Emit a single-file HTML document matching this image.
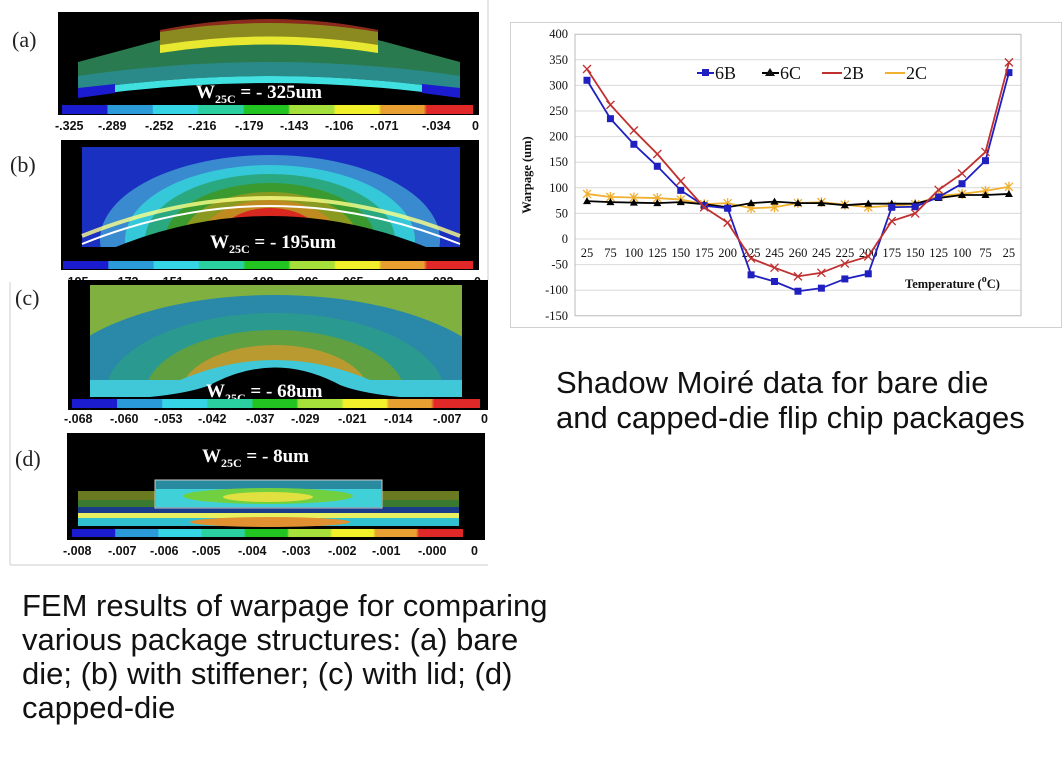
<!DOCTYPE html>
<html><head><meta charset="utf-8"><style>
html,body{margin:0;padding:0;background:#fff;}
svg{display:block}
.cap{font-family:"Liberation Sans",sans-serif;font-size:31px;fill:#111}
.lab{font-family:"Liberation Serif",serif;font-size:22px;fill:#222}
.cb{font-family:"Liberation Sans",sans-serif;font-size:12.5px;font-weight:bold;fill:#111}
.w{font-family:"Liberation Serif",serif;font-size:19px;font-weight:bold;fill:#fff}
.ax{font-family:"Liberation Serif",serif;font-size:12.5px;fill:#111}
</style></head><body>
<svg id="s" width="1064" height="767" viewBox="0 0 1064 767" xmlns="http://www.w3.org/2000/svg">
<defs>
<linearGradient id="cbar" x1="0" x2="1" y1="0" y2="0">
<stop offset="0" stop-color="#1b1bd0"/><stop offset=".11" stop-color="#1b1bd0"/>
<stop offset=".111" stop-color="#2a9ad8"/><stop offset=".22" stop-color="#2a9ad8"/>
<stop offset=".222" stop-color="#35d5e5"/><stop offset=".33" stop-color="#35d5e5"/>
<stop offset=".333" stop-color="#2ad0a0"/><stop offset=".44" stop-color="#2ad0a0"/>
<stop offset=".444" stop-color="#22c422"/><stop offset=".55" stop-color="#22c422"/>
<stop offset=".555" stop-color="#a6e03a"/><stop offset=".66" stop-color="#a6e03a"/>
<stop offset=".666" stop-color="#f2f02a"/><stop offset=".77" stop-color="#f2f02a"/>
<stop offset=".777" stop-color="#e8a030"/><stop offset=".88" stop-color="#e8a030"/>
<stop offset=".888" stop-color="#e02828"/><stop offset="1" stop-color="#e02828"/>
</linearGradient>
<clipPath id="cpb"><rect x="82" y="147" width="378" height="100"/></clipPath>
<clipPath id="cpc"><rect x="90" y="285" width="372" height="112"/></clipPath>
</defs>

<line x1="488" y1="0" x2="488" y2="280" stroke="#ccc"/>
<line x1="10" y1="282" x2="10" y2="565" stroke="#ccc"/>
<line x1="10" y1="565" x2="488" y2="565" stroke="#ccc"/>

<!-- (a) -->
<text class="lab" x="12" y="47">(a)</text>
<rect x="58" y="12" width="421" height="103" fill="#000"/>
<path d="M160,30 Q270,8 378,30 L378,52 Q270,32 160,52Z" fill="#8a2a1a"/>
<path d="M78,62 L160,40 Q270,22 378,40 L460,62 L460,88 Q270,58 78,88Z" fill="#2a7a50"/>
<path d="M160,32 Q270,14 378,32 L378,50 Q270,34 160,50Z" fill="#8a8a20"/>
<path d="M160,45 Q270,28 378,45 L378,53 Q270,36 160,53Z" fill="#e8e830"/>
<path d="M78,76 Q270,48 460,76 L460,90 Q270,62 78,90Z" fill="#2a8a8a"/>
<path d="M78,90 Q270,62 460,90 L460,97 Q270,69 78,97Z" fill="#40e0e0"/>
<path d="M78,88 L115,84 L115,93 L78,98Z" fill="#1b1bd0"/>
<path d="M460,88 L422,84 L422,93 L460,98Z" fill="#1b1bd0"/>
<text class="w" x="196" y="98">W<tspan font-size="12" dy="5">25C</tspan><tspan dy="-5"> = - 325um</tspan></text>
<rect x="62" y="105" width="411" height="9" fill="url(#cbar)"/>
<text class="cb" y="130"><tspan x="55">-.325</tspan><tspan x="98">-.289</tspan><tspan x="145">-.252</tspan><tspan x="188">-.216</tspan><tspan x="235">-.179</tspan><tspan x="280">-.143</tspan><tspan x="325">-.106</tspan><tspan x="370">-.071</tspan><tspan x="422">-.034</tspan><tspan x="472">0</tspan></text>

<!-- (b) -->
<text class="lab" x="10" y="172">(b)</text>
<rect x="61" y="140" width="418" height="130" fill="#000"/>
<g clip-path="url(#cpb)">
<rect x="82" y="147" width="378" height="100" fill="#1a30c0"/>
<ellipse cx="270" cy="240" rx="170" ry="85" fill="#3a8ad0"/>
<ellipse cx="270" cy="240" rx="145" ry="75" fill="#35c8d8"/>
<ellipse cx="270" cy="240" rx="125" ry="66" fill="#2aa880"/>
<ellipse cx="270" cy="240" rx="105" ry="57" fill="#3a9a30"/>
<ellipse cx="270" cy="240" rx="88" ry="48" fill="#8a9a20"/>
<ellipse cx="270" cy="240" rx="70" ry="40" fill="#c08a20"/>
<ellipse cx="270" cy="240" rx="52" ry="32" fill="#d82820"/>
</g>
<path d="M82,236 Q270,160 460,236" fill="none" stroke="#ff8" stroke-width="4" opacity=".8"/>
<path d="M82,244 Q270,168 460,244" fill="none" stroke="#fff" stroke-width="2"/>
<path d="M82,262 Q270,170 460,262 L460,270 L82,270Z" fill="#000"/>
<text class="w" x="210" y="248">W<tspan font-size="12" dy="5">25C</tspan><tspan dy="-5"> = - 195um</tspan></text>
<rect x="63" y="261" width="410" height="8" fill="url(#cbar)"/>
<text class="cb" y="286"><tspan x="60">-.195</tspan><tspan x="110">-.173</tspan><tspan x="155">-.151</tspan><tspan x="200">-.130</tspan><tspan x="245">-.108</tspan><tspan x="290">-.086</tspan><tspan x="335">-.065</tspan><tspan x="380">-.043</tspan><tspan x="425">-.022</tspan><tspan x="474">0</tspan></text>
<rect x="11" y="280" width="477" height="12" fill="#fff"/>

<!-- (c) -->
<text class="lab" x="15" y="305">(c)</text>
<rect x="68" y="280" width="420" height="130" fill="#000"/>
<g clip-path="url(#cpc)">
<rect x="90" y="285" width="372" height="112" fill="#80b040"/>
<ellipse cx="275" cy="395" rx="230" ry="100" fill="#2a88a8"/>
<ellipse cx="275" cy="395" rx="170" ry="82" fill="#2a9a90"/>
<ellipse cx="275" cy="395" rx="130" ry="65" fill="#60a040"/>
<ellipse cx="275" cy="395" rx="95" ry="50" fill="#b89a30"/>
<ellipse cx="275" cy="395" rx="60" ry="35" fill="#e07020"/>
<ellipse cx="275" cy="395" rx="45" ry="25" fill="#e02020"/>
<path d="M90,380 L180,380 Q275,340 370,380 L462,380 L462,397 L90,397Z" fill="#40c8d8"/>
</g>
<path d="M90,397 L150,397 Q190,393 210,385 Q275,350 340,385 Q360,393 400,397 L462,397 L462,400 L90,400Z" fill="#000"/>
<path d="M215,400 Q275,360 335,400Z" fill="#000"/>
<text class="w" x="206" y="397">W<tspan font-size="12" dy="5">25C</tspan><tspan dy="-5"> = - 68um</tspan></text>
<rect x="72" y="399" width="408" height="9" fill="url(#cbar)"/>
<text class="cb" y="423"><tspan x="64">-.068</tspan><tspan x="110">-.060</tspan><tspan x="154">-.053</tspan><tspan x="198">-.042</tspan><tspan x="246">-.037</tspan><tspan x="291">-.029</tspan><tspan x="338">-.021</tspan><tspan x="384">-.014</tspan><tspan x="433">-.007</tspan><tspan x="481">0</tspan></text>

<!-- (d) -->
<text class="lab" x="15" y="466">(d)</text>
<rect x="67" y="433" width="418" height="107" fill="#000"/>
<text class="w" x="202" y="462">W<tspan font-size="12" dy="5">25C</tspan><tspan dy="-5"> = - 8um</tspan></text>
<rect x="78" y="491" width="381" height="35" fill="#3a7a30"/>
<rect x="78" y="491" width="381" height="9" fill="#6a7a20"/>
<rect x="78" y="507" width="381" height="6" fill="#1a3a8a"/>
<rect x="78" y="513" width="381" height="5" fill="#e8f060"/>
<rect x="78" y="518" width="381" height="8" fill="#30c0d0"/>
<ellipse cx="270" cy="522" rx="80" ry="5" fill="#e09030"/>
<rect x="155" y="480" width="227" height="28" fill="#2a8aa0" stroke="#ccc" stroke-width="1"/>
<rect x="156" y="489" width="225" height="18" fill="#40d0d8"/>
<ellipse cx="268" cy="496" rx="85" ry="8" fill="#70d040"/>
<ellipse cx="268" cy="497" rx="45" ry="5" fill="#e0e040"/>
<rect x="72" y="529" width="391" height="8" fill="url(#cbar)"/>
<text class="cb" y="555"><tspan x="63">-.008</tspan><tspan x="108">-.007</tspan><tspan x="150">-.006</tspan><tspan x="192">-.005</tspan><tspan x="238">-.004</tspan><tspan x="282">-.003</tspan><tspan x="328">-.002</tspan><tspan x="372">-.001</tspan><tspan x="418">-.000</tspan><tspan x="471">0</tspan></text>

<!-- captions -->
<text class="cap" x="556" y="393">Shadow Moiré data for bare die</text>
<text class="cap" x="556" y="428">and capped-die flip chip packages</text>
<text class="cap" x="22" y="616">FEM results of warpage for comparing</text>
<text class="cap" x="22" y="650">various package structures: (a) bare</text>
<text class="cap" x="22" y="684">die; (b) with stiffener; (c) with lid; (d)</text>
<text class="cap" x="22" y="718">capped-die</text>

<!-- chart -->
<rect x="510.5" y="22.5" width="551" height="305" fill="#fff" stroke="#d0d0d0"/>
<g id="chart"></g>
<text class="ax" x="531" y="175" font-weight="bold" font-size="15" text-anchor="middle" transform="rotate(-90 531 175)">Warpage (um)</text>
<text class="ax" x="905" y="288" font-weight="bold" font-size="15">Temperature (<tspan font-size="10" dy="-6">o</tspan><tspan dy="6">C)</tspan></text>
<g font-family="Liberation Serif,serif" font-size="18" fill="#111">
<line x1="697" y1="73" x2="714" y2="73" stroke="#2020c0" stroke-width="2"/><rect x="702" y="69" width="7" height="7" fill="#2020c0"/><text x="715" y="79">6B</text>
<line x1="762" y1="73" x2="779" y2="73" stroke="#000" stroke-width="2"/><path d="M770,68 L775,76 L765,76Z"/><text x="780" y="79">6C</text>
<line x1="822" y1="73" x2="842" y2="73" stroke="#c03030" stroke-width="2"/><text x="843" y="79">2B</text>
<line x1="885" y1="73" x2="905" y2="73" stroke="#f0b030" stroke-width="2"/><text x="906" y="79">2C</text>
</g>
</svg>
<script>
(function(){
var g=document.getElementById('chart'),h='';
function Y(v){return 239-v*0.512;}function X(i){return 587+i*23.44;}
for(var v=-150;v<=400;v+=50){var y=Y(v);h+='<line x1="575" x2="1021" y1="'+y+'" y2="'+y+'" stroke="'+(v==-150||v==400?'#bbb':'#d9d9d9')+'"/>';
h+='<text class="ax" x="568" y="'+(y+4)+'" text-anchor="end">'+v+'</text>';}
h+='<line x1="575" x2="575" y1="34" y2="316" stroke="#bbb"/><line x1="1021" x2="1021" y1="34" y2="316" stroke="#bbb"/>';
var t=[25,75,100,125,150,175,200,225,245,260,245,225,200,175,150,125,100,75,25];
for(var i=0;i<19;i++)h+='<text class="ax" x="'+X(i)+'" y="257" text-anchor="middle">'+t[i]+'</text>';
var S=[
{c:'#f0b030',m:'ast',d:[88,82,81,80,77,68,70,60,62,70,72,67,62,65,68,84,88,94,102]},
{c:'#000',m:'tri',d:[74,72,71,70,72,68,62,70,73,70,70,66,69,69,69,80,86,86,88]},
{c:'#2020c0',m:'sq',d:[310,235,185,142,95,65,60,-70,-83,-102,-96,-78,-68,62,63,82,108,153,325]},
{c:'#c03030',m:'x',d:[332,262,212,166,113,62,32,-38,-56,-73,-66,-48,-34,35,50,96,128,170,345]}];
S.forEach(function(s){var p=s.d.map(function(v,i){return X(i)+','+Y(v)}).join(' ');
h+='<polyline points="'+p+'" fill="none" stroke="'+s.c+'" stroke-width="1.8"/>';
s.d.forEach(function(v,i){var x=X(i),y=Y(v);
if(s.m=='sq')h+='<rect x="'+(x-3.5)+'" y="'+(y-3.5)+'" width="7" height="7" fill="'+s.c+'"/>';
else if(s.m=='tri')h+='<path d="M'+x+','+(y-4)+' L'+(x+4)+','+(y+3)+' L'+(x-4)+','+(y+3)+'Z" fill="#000"/>';
else{h+='<path d="M'+(x-4)+','+(y-4)+'L'+(x+4)+','+(y+4)+'M'+(x+4)+','+(y-4)+'L'+(x-4)+','+(y+4)+(s.m=='ast'?'M'+x+','+(y-5)+'L'+x+','+(y+5):'')+'" stroke="'+s.c+'" stroke-width="1.3"/>';}
});});
g.innerHTML=h;
})();
</script>
</body></html>
